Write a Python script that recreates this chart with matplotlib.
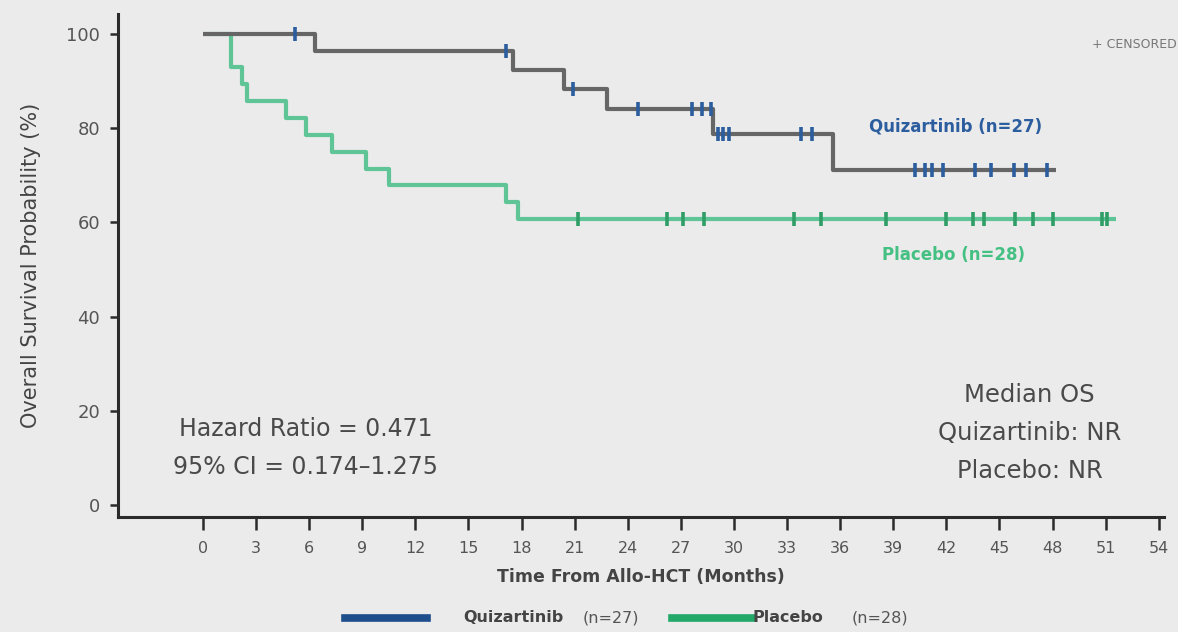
import numpy as np
import matplotlib
matplotlib.use('Agg')
import matplotlib.pyplot as plt
from matplotlib.lines import Line2D

plt.rcParams['font.family'] = ['DejaVu Sans']

# Kaplan-Meier step data (months, % surviving)
quiz_t = [0, 6.3, 17.5, 20.4, 22.8, 28.8, 35.6, 48.2]
quiz_s = [100, 96.3, 92.3, 88.2, 84.0, 78.7, 71.1, 71.1]
quiz_cens = [5.2, 17.1, 20.9, 24.6, 27.6, 28.2, 28.7, 29.1, 29.4, 29.7, 33.8, 34.4,
             40.2, 40.8, 41.2, 41.8, 43.6, 44.5, 45.8, 46.5, 47.7]

plac_t = [0, 1.6, 2.2, 2.5, 4.7, 5.8, 7.3, 9.2, 10.5, 17.1, 17.8, 51.6]
plac_s = [100, 92.9, 89.3, 85.7, 82.1, 78.6, 75.0, 71.4, 67.9, 64.3, 60.7, 60.7]
plac_cens = [21.2, 26.2, 27.1, 28.3, 33.4, 34.9, 38.6, 42.0, 43.5, 44.1, 45.9, 46.9,
             48.0, 50.8, 51.1]

xticks = list(range(0, 55, 3))
yticks = [0, 20, 40, 60, 80, 100]

bg = '#ebebeb'
gray_line = '#666666'
blue = '#2c5d9e'
green = '#5fc597'
green_dark = '#2f9e66'
txt = '#4a4a4a'


def surv_at(times, surv, t):
    i = np.searchsorted(times, t, side='right') - 1
    return np.array(surv)[i]


fig = plt.figure(figsize=(11.78, 6.32), dpi=100, facecolor=bg)
ax = fig.add_axes([0.1002, 0.182, 0.888, 0.796])
ax.set_facecolor(bg)

ax.step(plac_t, plac_s, where='post', color=green, lw=3.0, solid_capstyle='butt', zorder=2)
ax.step(quiz_t, quiz_s, where='post', color=gray_line, lw=3.0, solid_capstyle='butt', zorder=3)

ax.plot(plac_cens, surv_at(plac_t, plac_s, plac_cens), ls='none', marker='|',
        ms=10, mew=2.6, color=green_dark, zorder=4)
ax.plot(quiz_cens, surv_at(quiz_t, quiz_s, quiz_cens), ls='none', marker='|',
        ms=10, mew=2.6, color=blue, zorder=5)

ax.set_xlim(-4.8, 54.3)
ax.set_ylim(-2.5, 104.2)
ax.set_xticks(xticks)
ax.set_yticks(yticks)
for s in ['top', 'right']:
    ax.spines[s].set_visible(False)
for s in ['left', 'bottom']:
    ax.spines[s].set_linewidth(2.2)
    ax.spines[s].set_color('#2b2b2b')
ax.tick_params(axis='x', direction='out', length=9, width=1.8, color='#2b2b2b',
               labelsize=11.5, labelcolor='#555555', pad=8)
ax.tick_params(axis='y', direction='out', length=6, width=1.8, color='#2b2b2b',
               labelsize=13, labelcolor='#555555', pad=7)

ax.set_xlabel('Time From Allo-HCT (Months)', fontsize=12.5, fontweight='bold',
              color='#444444', labelpad=9)
ax.set_ylabel('Overall Survival Probability (%)', fontsize=15, color='#444444', labelpad=18)

ax.text(42.5, 80.3, 'Quizartinib (n=27)', color=blue, fontsize=12, fontweight='bold',
        ha='center', va='center')
ax.text(42.4, 53.1, 'Placebo (n=28)', color='#45c083', fontsize=12, fontweight='bold',
        ha='center', va='center')
fig.text(1177 / 1178, 1 - 45 / 632, '+ CENSORED', color='#777777', fontsize=9,
         ha='right', va='center')

ax.text(5.8, 12.2, 'Hazard Ratio = 0.471\n95% CI = 0.174\u20131.275', color=txt,
        fontsize=17, ha='center', va='center', linespacing=1.75)
ax.text(46.7, 15.3, 'Median OS\nQuizartinib: NR\nPlacebo: NR', color=txt,
        fontsize=17.5, ha='center', va='center', linespacing=1.75)

# bottom legend
ly = 1 - 618 / 632
fig.add_artist(Line2D([345 / 1178, 427 / 1178], [ly, ly], color='#1f4e8c', lw=5.5))
fig.add_artist(Line2D([672 / 1178, 752 / 1178], [ly, ly], color='#22a868', lw=5.5))
fig.text(463 / 1178, ly, 'Quizartinib', fontsize=11.5, fontweight='bold',
         color='#444444', ha='left', va='center')
fig.text(583 / 1178, ly, '(n=27)', fontsize=11.5, color='#555555',
         ha='left', va='center')
fig.text(753 / 1178, ly, 'Placebo', fontsize=11.5, fontweight='bold',
         color='#444444', ha='left', va='center')
fig.text(852 / 1178, ly, '(n=28)', fontsize=11.5, color='#555555',
         ha='left', va='center')

fig.savefig('out.png', dpi=100, facecolor=bg)
